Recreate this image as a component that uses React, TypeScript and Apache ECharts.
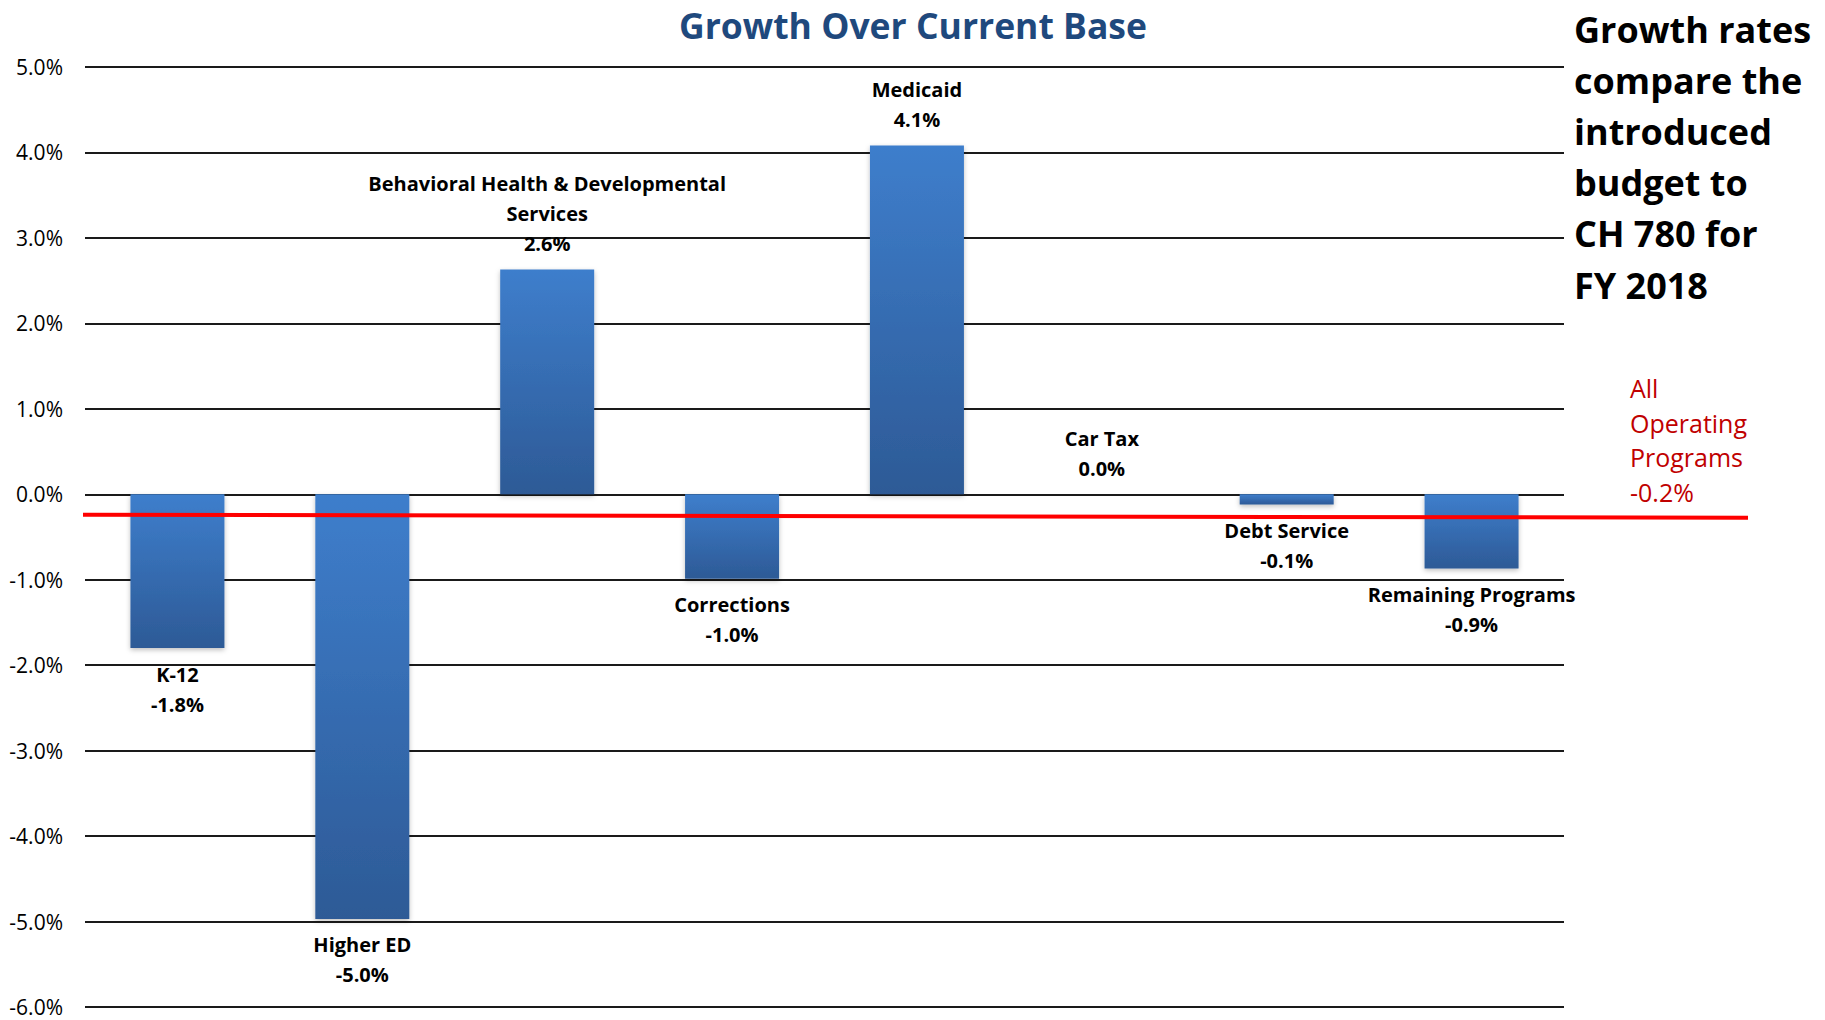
import React, { useEffect, useRef } from "react";
import * as echarts from "echarts";

// ---- Data ----
const categories = [
  "K-12",
  "Higher ED",
  "Behavioral Health & Developmental\nServices",
  "Corrections",
  "Medicaid",
  "Car Tax",
  "Debt Service",
  "Remaining Programs",
];
const growth = [-1.8, -4.97, 2.63, -0.99, 4.08, 0, -0.12, -0.87];

const yMin = -6;
const yMax = 5;
const yStep = 1;

const titleText = "Growth Over Current Base";
const noteLines = ["Growth rates", "compare the", "introduced", "budget to", "CH 780 for", "FY 2018"];
const allOperatingLabel = ["All", "Operating", "Programs"];
const allOperatingValue = -0.2;
// the red reference line as drawn in the picture (left end, right end)
const allOperatingLine = [-0.24, -0.275];

const FONT = "'Open Sans', 'Noto Sans', sans-serif";

export default function App() {
  const ref = useRef<HTMLDivElement>(null);

  useEffect(() => {
    if (!ref.current) return;
    const chart = echarts.init(ref.current, undefined, { renderer: "svg" });

    const option: any = {
      animation: false,
      backgroundColor: "#ffffff",
      grid: { left: 85, right: 261, top: 67, bottom: 13, containLabel: false },
      xAxis: {
        type: "category",
        data: categories,
        axisLine: { show: false },
        axisTick: { show: false },
        axisLabel: { show: false },
        splitLine: { show: false },
      },
      yAxis: {
        type: "value",
        min: yMin,
        max: yMax,
        interval: yStep,
        axisLine: { show: false },
        axisTick: { show: false },
        axisLabel: {
          formatter: (v: number) => v.toFixed(1) + "%",
          fontFamily: FONT,
          fontSize: 21,
          lineHeight: 20,
          color: "#000000",
          margin: 22,
        },
        splitLine: { show: true, lineStyle: { color: "#1a1a1a", width: 2 } },
      },
      series: [
        {
          type: "bar",
          barWidth: 94,
          data: growth.map((v) => ({
            value: v,
            label: { position: v >= 0 ? "top" : "bottom" },
          })),
          itemStyle: {
            color: new echarts.graphic.LinearGradient(0, 0, 0, 1, [
              { offset: 0, color: "#3E7ECC" },
              { offset: 1, color: "#2D5A96" },
            ]),
            shadowColor: "rgba(0,0,0,0.25)",
            shadowBlur: 5,
            shadowOffsetY: 2,
          },
          label: {
            show: true,
            distance: 11,
            formatter: (p: any) => `${p.name}\n${Number(p.value).toFixed(1)}%`,
            fontFamily: FONT,
            fontWeight: "bold",
            fontSize: 20,
            lineHeight: 30,
            color: "#000000",
            align: "center",
          },
        },
      ],
    };

    chart.setOption(option);

    const yL = chart.convertToPixel({ yAxisIndex: 0 }, allOperatingLine[0]) as number;
    const yR = chart.convertToPixel({ yAxisIndex: 0 }, allOperatingLine[1]) as number;

    chart.setOption({
      graphic: [
        {
          type: "text",
          x: 913,
          y: 25,
          style: {
            text: titleText,
            fontFamily: FONT,
            fontWeight: "bold",
            fontSize: 35.5,
            fill: "#1F497D",
            textAlign: "center",
            textVerticalAlign: "middle",
          },
        },
        ...noteLines.map((t, i) => ({
          type: "text",
          x: 1574,
          y: 29 + i * 51.2,
          style: {
            text: t,
            fontFamily: FONT,
            fontWeight: "bold",
            fontSize: 36,
            fill: "#000000",
            textAlign: "left",
            textVerticalAlign: "middle",
          },
        })),
        ...[...allOperatingLabel, allOperatingValue.toFixed(1) + "%"].map((t, i) => ({
          type: "text",
          x: 1630,
          y: 388 + i * 34.5,
          style: {
            text: t,
            fontFamily: FONT,
            fontSize: 25,
            fill: "#C00000",
            textAlign: "left",
            textVerticalAlign: "middle",
          },
        })),
        {
          type: "line",
          z: 100,
          shape: { x1: 83, y1: yL, x2: 1748, y2: yR },
          style: { stroke: "#FF0000", lineWidth: 4 },
        },
      ],
    });

    return () => {
      chart.dispose();
    };
  }, []);

  return (
    <div
      ref={ref}
      style={{ position: "absolute", left: 0, top: 0, width: 1825, height: 1020 }}
    />
  );
}
